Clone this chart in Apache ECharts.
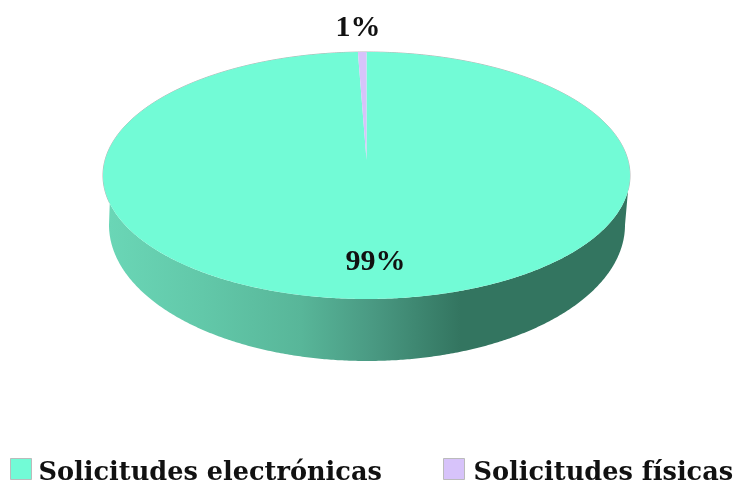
<!DOCTYPE html>
<html>
<head>
<meta charset="utf-8">
<style>
  html, body { margin: 0; padding: 0; background: #fff; }
  #chart { width: 739px; height: 483px; }
</style>
<script src="https://cdn.jsdelivr.net/npm/echarts@6/dist/echarts.min.js"></script>
</head>
<body>
<div id="chart"></div>
<script>
const categories = ['Solicitudes electrónicas', 'Solicitudes físicas'];
const shares = [99.48, 0.52];
const sliceColors = ['#72fbd6', '#d7c3fa'];

const LABEL_FONT = '"Liberation Serif", serif';
const LEGEND_FONT = '"DejaVu Serif", serif';

// the pie is tilted, so the slices are ellipse sectors drawn in a custom series
const top3d = { cx: 366.5, cy: 175.5, rx: 263.5, ry: 123.5, apexY: 160 };
const bottom3d = { cx: 367, cy: 225, rx: 258, ry: 136 };

function pointOn(e, deg) {
  const a = (deg * Math.PI) / 180;
  return [e.cx + e.rx * Math.sin(a), e.cy - e.ry * Math.cos(a)];
}

function arc(e, from, to) {
  const pts = [];
  const n = Math.max(2, Math.ceil(Math.abs(to - from) * 2));
  for (let i = 0; i <= n; i++) pts.push(pointOn(e, from + ((to - from) * i) / n));
  return pts;
}

const total = shares.reduce((s, v) => s + v, 0);
const startAngles = shares.map((_, i) => (shares.slice(0, i).reduce((s, v) => s + v, 0) / total) * 360);
const pct = shares.map((v) => Math.round((v / total) * 100) + '%');

const wallGradient = new echarts.graphic.LinearGradient(0, 0, 1, 0, [
  { offset: 0, color: '#6ad6b6' },
  { offset: 0.18, color: '#62c8a9' },
  { offset: 0.37, color: '#58b699' },
  { offset: 0.505, color: '#4a9a83' },
  { offset: 0.677, color: '#337560' },
  { offset: 1, color: '#337560' },
]);

function percentLabel(text, x, y) {
  return {
    type: 'text',
    z2: 10,
    style: {
      text,
      x,
      y,
      align: 'center',
      verticalAlign: 'middle',
      font: 'bold 30px ' + LABEL_FONT,
      fill: '#111',
    },
  };
}

function renderSlice(params, api) {
  const i = api.value(0);
  const from = startAngles[i];
  const to = from + (shares[i] / total) * 360;
  const apex = [top3d.cx, top3d.apexY];
  const children = [];

  if (i === 0) {
    children.push({
      type: 'polygon',
      shape: { points: arc(top3d, 97, 257).concat(arc(bottom3d, 270, 90)) },
      style: { fill: wallGradient },
    });
    // thin grey rim around the back of the lid
    children.push({
      type: 'polyline',
      shape: { points: arc(top3d, -103, 97) },
      style: { fill: 'none', stroke: 'rgba(120,120,120,0.55)', lineWidth: 1 },
    });
  }

  children.push({
    type: 'polygon',
    shape: { points: [apex].concat(arc(top3d, from, to)) },
    style: { fill: sliceColors[i] },
  });

  if (i === 0) children.push(percentLabel(pct[i], 375.5, 262));
  else children.push(percentLabel(pct[i], 358, 28));

  return { type: 'group', children };
}

const legendText = (padLeft) => ({
  rich: {
    t: {
      fontFamily: LEGEND_FONT,
      fontWeight: 'bold',
      fontSize: 25.6,
      color: '#111',
      padding: [8, 0, 0, padLeft],
    },
  },
});

const legendBase = {
  orient: 'horizontal',
  icon: 'rect',
  itemWidth: 21,
  itemHeight: 21,
  top: 453,
  selectedMode: false,
  itemStyle: { borderColor: '#bbb', borderWidth: 1 },
  formatter: (name) => `{t|${name}}`,
};

const chart = echarts.init(document.getElementById('chart'), null, { renderer: 'canvas' });

chart.setOption({
  animation: false,
  backgroundColor: '#fff',
  legend: [
    { ...legendBase, left: 5, data: [categories[0]], textStyle: legendText(2) },
    { ...legendBase, left: 438, data: [categories[1]], textStyle: legendText(4) },
  ],
  series: categories.map((name, i) => ({
    type: 'custom',
    name,
    coordinateSystem: 'none',
    silent: true,
    itemStyle: { color: sliceColors[i] },
    data: [[i, shares[i]]],
    renderItem: renderSlice,
    z: i,
  })),
});

window.addEventListener('resize', () => chart.resize());
</script>
</body>
</html>
